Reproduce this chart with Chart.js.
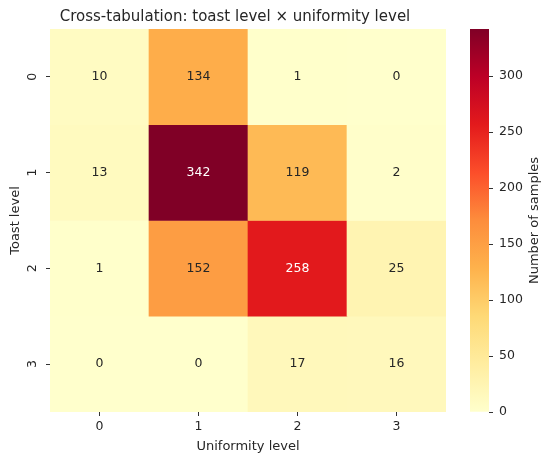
<!DOCTYPE html>
<html><head><meta charset="utf-8">
<script src="https://cdn.jsdelivr.net/npm/chart.js@4.4.0/dist/chart.umd.min.js"></script>
<style>
html,body{margin:0;padding:0;background:#fff;}
#wrap{position:relative;width:550px;height:462px;background:#fff;}
#hm{position:absolute;left:0;top:0;}
#cb{position:absolute;left:446px;top:0;}
</style></head><body>
<div id="wrap">
<canvas id="hm" width="470" height="462" style="width:470px;height:462px"></canvas>
<canvas id="cb" width="104" height="462" style="width:104px;height:462px"></canvas>
</div>
<script>
// ---- data ----
const uniformityLevels = ['0', '1', '2', '3'];
const toastLevels = ['0', '1', '2', '3'];
const toast0 = [10, 134, 1, 0];
const toast1 = [13, 342, 119, 2];
const toast2 = [1, 152, 258, 25];
const toast3 = [0, 0, 17, 16];
const colorbarTicks = [0, 50, 100, 150, 200, 250, 300];
const vmin = 0;
const vmax = 342;
const counts = [toast0, toast1, toast2, toast3];

// ---- colormap (YlOrRd) ----
const YLORRD = ['#ffffcc','#ffeda0','#fed976','#feb24c','#fd8d3c','#fc4e2a','#e31a1c','#bd0026','#800026'];
function hexToRgb(h){ return [parseInt(h.slice(1,3),16), parseInt(h.slice(3,5),16), parseInt(h.slice(5,7),16)]; }
const YLORRD_RGB = YLORRD.map(hexToRgb);
function cmapRgb(v){
  let t = (v - vmin) / (vmax - vmin);
  t = Math.max(0, Math.min(1, t));
  const p = t * (YLORRD_RGB.length - 1);
  const i = Math.min(Math.floor(p), YLORRD_RGB.length - 2);
  const f = p - i;
  const a = YLORRD_RGB[i], b = YLORRD_RGB[i+1];
  return [0,1,2].map(k => Math.round(a[k] + (b[k]-a[k]) * f));
}
function cmap(v){ const c = cmapRgb(v); return `rgb(${c[0]},${c[1]},${c[2]})`; }
function textColorFor(v){
  const c = cmapRgb(v).map(x => { x /= 255; return x <= 0.03928 ? x/12.92 : Math.pow((x+0.055)/1.055, 2.4); });
  const lum = 0.2126*c[0] + 0.7152*c[1] + 0.0722*c[2];
  return lum > 0.408 ? '#262626' : '#ffffff';
}

const FONT = 'DejaVu Sans';
const TXT = '#262626';

const annotPlugin = {
  id: 'annot',
  afterDatasetsDraw(chart){
    const ctx = chart.ctx;
    ctx.save();
    ctx.font = `12.5px "${FONT}"`;
    ctx.textAlign = 'center';
    ctx.textBaseline = 'middle';
    chart.data.datasets.forEach((ds, di) => {
      const meta = chart.getDatasetMeta(di);
      meta.data.forEach((el, i) => {
        const v = ds.counts[i];
        ctx.fillStyle = textColorFor(v);
        ctx.fillText(String(v), el.x, (el.y + el.base) / 2);
      });
    });
    ctx.restore();
  }
};

const datasets = counts.map((row, r) => ({
  label: 'Toast level ' + toastLevels[r],
  counts: row,
  data: row.map(() => [r - 0.5, r + 0.5]),
  backgroundColor: row.map(v => cmap(v)),
  borderWidth: 0,
  borderSkipped: false,
  barPercentage: 1,
  categoryPercentage: 1,
  grouped: false
}));

new Chart(document.getElementById('hm'), {
  type: 'bar',
  data: { labels: uniformityLevels, datasets },
  options: {
    responsive: false,
    animation: false,
    devicePixelRatio: 1,
    layout: { padding: { left: 24, right: 24, top: 0, bottom: 0 } },
    plugins: {
      legend: { display: false },
      tooltip: { enabled: false },
      title: {
        display: true,
        text: 'Cross-tabulation: toast level × uniformity level',
        font: { family: FONT, size: 15, weight: 'normal', lineHeight: 1.2 },
        color: TXT,
        padding: { top: 8, bottom: 3 }
      }
    },
    scales: {
      x: {
        type: 'category',
        offset: true,
        grid: { offset: false, drawOnChartArea: false, drawTicks: true, tickLength: 4, tickColor: '#333', tickWidth: 1 },
        border: { display: false },
        ticks: { font: { family: FONT, size: 12.5 }, color: TXT, padding: 3, maxRotation: 0, minRotation: 0 },
        title: { display: true, text: 'Uniformity level', font: { family: FONT, size: 13, lineHeight: 1.2 }, color: TXT, padding: { top: 0, bottom: 7.5 } },
        afterFit(s){ s.height = 50; }
      },
      y: {
        type: 'linear',
        reverse: true,
        min: -0.5,
        max: 3.5,
        afterBuildTicks(s){ s.ticks = toastLevels.map((_, i) => ({ value: i })); },
        grid: { drawOnChartArea: false, drawTicks: true, tickLength: 4, tickColor: '#333', tickWidth: 1 },
        border: { display: false },
        ticks: {
          font: { family: FONT, size: 12.5 }, color: TXT, padding: 9,
          minRotation: 90, maxRotation: 90, crossAlign: 'center',
          callback: v => toastLevels[v]
        },
        title: { display: true, text: 'Toast level', font: { family: FONT, size: 13, lineHeight: 1.2 }, color: TXT, padding: { top: -15.8, bottom: 0 } },
        afterFit(s){ s.width = 26; }
      }
    }
  },
  plugins: [annotPlugin]
});

// ---- colorbar ----
const cbTitlePlugin = {
  id: 'cbTitle',
  afterDraw(chart){
    const ctx = chart.ctx;
    const a = chart.chartArea;
    ctx.save();
    ctx.font = `13px "${FONT}"`;
    ctx.fillStyle = TXT;
    ctx.textAlign = 'center';
    ctx.textBaseline = 'middle';
    ctx.translate(89, (a.top + a.bottom) / 2);
    ctx.rotate(-Math.PI / 2);
    ctx.fillText('Number of samples', 0, 0);
    ctx.restore();
  }
};

new Chart(document.getElementById('cb'), {
  type: 'bar',
  data: {
    labels: ['Number of samples'],
    datasets: [{
      data: [[vmin, vmax]],
      backgroundColor(c){
        const chart = c.chart;
        const a = chart.chartArea;
        if (!a || !chart.scales.y) return YLORRD[0];
        const y0 = chart.scales.y.getPixelForValue(vmin);
        const y1 = chart.scales.y.getPixelForValue(vmax);
        const g = chart.ctx.createLinearGradient(0, y0, 0, y1);
        YLORRD.forEach((col, i) => g.addColorStop(i / (YLORRD.length - 1), col));
        return g;
      },
      borderWidth: 0,
      barPercentage: 1,
      categoryPercentage: 1
    }]
  },
  options: {
    responsive: false,
    animation: false,
    devicePixelRatio: 1,
    layout: { padding: { left: 24, right: 0, top: 29, bottom: 50 } },
    plugins: { legend: { display: false }, tooltip: { enabled: false } },
    scales: {
      x: { display: false },
      y: {
        position: 'right',
        min: vmin,
        max: vmax,
        afterBuildTicks(s){ s.ticks = colorbarTicks.map(v => ({ value: v })); },
        grid: { drawOnChartArea: false, drawTicks: true, tickLength: 4, tickColor: '#333', tickWidth: 1 },
        border: { display: false },
        ticks: { font: { family: FONT, size: 12.5 }, color: TXT, padding: 6 },
        afterFit(s){ s.width = 61; }
      }
    }
  },
  plugins: [cbTitlePlugin]
});
</script>
</body></html>
